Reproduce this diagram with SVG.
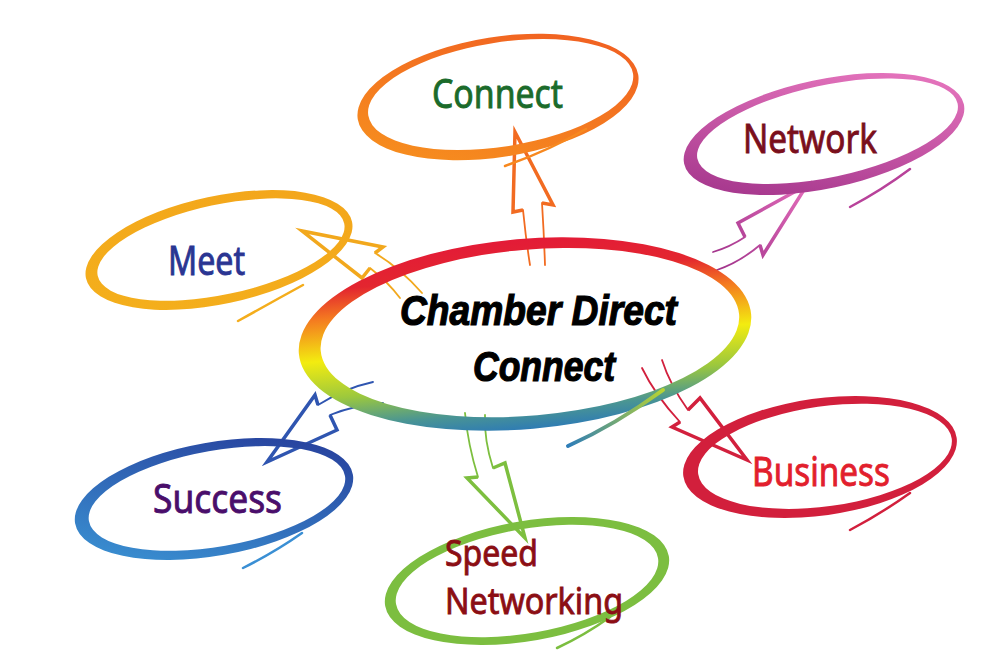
<svg xmlns="http://www.w3.org/2000/svg" width="1000" height="667" viewBox="0 0 1000 667">
<defs>
<style>
.lbl{font-family:"Noto Sans","Open Sans","DejaVu Sans",sans-serif;font-size:40px;stroke-width:0.9px;}
.sm{font-size:36px;}
.ctr{font-family:"Liberation Sans",Arial,sans-serif;font-size:42px;font-weight:bold;font-style:italic;fill:#000;stroke:#000;stroke-width:1.2px;}
.head{fill:none;stroke-width:3.5;stroke-linejoin:miter;stroke-miterlimit:20;}
.shaft{fill:none;stroke-width:1.8;stroke-linecap:round;}
.tail{fill:none;stroke-width:2.5;stroke-linecap:round;}
</style>
<linearGradient id="gCenter" x1="0" y1="0" x2="0" y2="1">
<stop offset="0" stop-color="#e31b37"/>
<stop offset="0.18" stop-color="#e3262f"/>
<stop offset="0.33" stop-color="#f47a20"/>
<stop offset="0.55" stop-color="#f3ec10"/>
<stop offset="0.75" stop-color="#9cc83d"/>
<stop offset="0.9" stop-color="#4a9593"/>
<stop offset="1" stop-color="#2f7cb3"/>
</linearGradient>
<linearGradient id="gCenterTail" gradientUnits="userSpaceOnUse" x1="568" y1="446" x2="663" y2="390">
<stop offset="0" stop-color="#2e7db8"/>
<stop offset="1" stop-color="#b8d432"/>
</linearGradient>
<linearGradient id="gConnect" x1="1" y1="0" x2="0" y2="1">
<stop offset="0" stop-color="#f05a22"/>
<stop offset="1" stop-color="#f7941e"/>
</linearGradient>
<linearGradient id="gMeet" x1="1" y1="0" x2="0" y2="1">
<stop offset="0" stop-color="#f3a51b"/>
<stop offset="1" stop-color="#f4b01c"/>
</linearGradient>
<linearGradient id="gNetwork" x1="1" y1="0" x2="0" y2="1">
<stop offset="0" stop-color="#f07fc5"/>
<stop offset="1" stop-color="#9b2d85"/>
</linearGradient>
<linearGradient id="gSuccess" x1="1" y1="0" x2="0" y2="1">
<stop offset="0" stop-color="#253696"/>
<stop offset="1" stop-color="#3c9ad8"/>
</linearGradient>
<linearGradient id="gNetArrow" gradientUnits="userSpaceOnUse" x1="807" y1="185" x2="713" y2="265">
<stop offset="0" stop-color="#e36cba"/>
<stop offset="1" stop-color="#a0328a"/>
</linearGradient>
</defs>
<rect width="1000" height="667" fill="#ffffff"/>

<g id="connectors">
<g id="arrow-connect" stroke="#f26b21">
<path class="head" d="M 523,210 L 513,212 L 515,132 L 553,205 L 542,203"/>
<path class="shaft" d="M 523,210 Q 526,240 530,265"/>
<path class="shaft" d="M 542,203 Q 544,235 545,265"/>
</g>
<g id="arrow-meet" stroke="#f2a81d">
<path class="head" d="M 375,253 L 383,247 L 302,231 L 362,278 L 370,268"/>
<path class="shaft" d="M 375,253 Q 400,268 422,293"/>
<path class="shaft" d="M 370,268 Q 388,282 400,298"/>
</g>
<g id="arrow-network" stroke="url(#gNetArrow)">
<path class="head" d="M 745,237 L 738,223 L 807,185 L 763,255 L 760,245"/>
<path class="shaft" d="M 745,237 Q 730,247 713,252"/>
<path class="shaft" d="M 760,245 Q 740,262 717,270"/>
</g>
<g id="arrow-success" stroke="#2f55b0">
<path class="head" d="M 318,405 L 315,395 L 267,462 L 337,430 L 330,415"/>
<path class="shaft" d="M 318,405 Q 345,388 373,382"/>
<path class="shaft" d="M 330,415 Q 355,405 383,403"/>
</g>
<g id="arrow-speed" stroke="#7dbf3f">
<path class="head" d="M 478,477 L 467,478 L 525,538 L 505,463 L 493,468"/>
<path class="shaft" d="M 478,477 Q 468,445 465,413"/>
<path class="shaft" d="M 493,468 Q 484,440 485,415"/>
</g>
<g id="arrow-business" stroke="#d2203d">
<path class="head" d="M 688,410 L 700,398 L 747,460 L 672,427 L 680,422"/>
<path class="shaft" d="M 688,410 Q 670,385 662,360"/>
<path class="shaft" d="M 680,422 Q 655,395 642,368"/>
</g>
</g>

<g id="center">
<g transform="translate(525,334) rotate(-5)">
<path fill="url(#gCenter)" fill-rule="evenodd" d="M -227,0 A 227 95 0 1 0 227,0 A 227 95 0 1 0 -227,0 Z M -205,-1 A 210 83 0 1 0 215,-1 A 210 83 0 1 0 -205,-1 Z"/>
</g>
<path d="M 568,446 Q 615,425 663,390" fill="none" stroke="url(#gCenterTail)" stroke-width="4" stroke-linecap="round"/>
<text class="ctr" x="400" y="325" textLength="277" lengthAdjust="spacingAndGlyphs">Chamber Direct</text>
<text class="ctr" x="473" y="381" textLength="142" lengthAdjust="spacingAndGlyphs">Connect</text>
</g>

<g id="node-connect">
<g transform="translate(498,97) rotate(-9)">
<path fill="url(#gConnect)" fill-rule="evenodd" d="M -142,0 A 142 60 0 1 0 142,0 A 142 60 0 1 0 -142,0 Z M -131,-2 A 134 52 0 1 0 137,-2 A 134 52 0 1 0 -131,-2 Z"/>
</g>
<path class="tail" stroke="#f7881f" d="M 505,166 Q 550,150 586,129"/>
<text class="lbl" x="432" y="108" fill="#1b6b2b" stroke="#1b6b2b" textLength="131" lengthAdjust="spacingAndGlyphs">Connect</text>
</g>

<g id="node-meet">
<g transform="translate(219,250) rotate(-12)">
<path fill="url(#gMeet)" fill-rule="evenodd" d="M -136,0 A 136 54 0 1 0 136,0 A 136 54 0 1 0 -136,0 Z M -124,0 A 126 45 0 1 0 128,0 A 126 45 0 1 0 -124,0 Z"/>
</g>
<path class="tail" stroke="#f4ad1c" d="M 238,321 Q 272,302 303,285"/>
<text class="lbl" x="168" y="275" fill="#2a3592" stroke="#2a3592" textLength="77" lengthAdjust="spacingAndGlyphs">Meet</text>
</g>

<g id="node-network">
<g transform="translate(824,134) rotate(-12)">
<path fill="url(#gNetwork)" fill-rule="evenodd" d="M -143,0 A 143 54.5 0 1 0 143,0 A 143 54.5 0 1 0 -143,0 Z M -129,-2 A 133 46 0 1 0 137,-2 A 133 46 0 1 0 -129,-2 Z"/>
</g>
<path class="tail" stroke="#b8429a" d="M 850,207 Q 882,190 910,169"/>
<text class="lbl" x="743" y="153" fill="#7a0f1c" stroke="#7a0f1c" textLength="134" lengthAdjust="spacingAndGlyphs">Network</text>
</g>

<g id="node-success">
<g transform="translate(214,499) rotate(-10)">
<path fill="url(#gSuccess)" fill-rule="evenodd" d="M -141,0 A 141 56.7 0 1 0 141,0 A 141 56.7 0 1 0 -141,0 Z M -127,0 A 130 48 0 1 0 133,0 A 130 48 0 1 0 -127,0 Z"/>
</g>
<path class="tail" stroke="#3a8fd4" d="M 243,568 Q 275,552 302,533"/>
<text class="lbl" x="153" y="513" fill="#4a0e6b" stroke="#4a0e6b" textLength="129" lengthAdjust="spacingAndGlyphs">Success</text>
</g>

<g id="node-speed">
<g transform="translate(527,581) rotate(-10)">
<path fill="#7cbe40" fill-rule="evenodd" d="M -144,0 A 144 59.8 0 1 0 144,0 A 144 59.8 0 1 0 -144,0 Z M -133,0 A 133 52 0 1 0 133,0 A 133 52 0 1 0 -133,0 Z"/>
</g>
<path class="tail" stroke="#7cbe40" d="M 557,648 Q 585,635 610,617"/>
<text class="lbl sm" x="445" y="566" fill="#8b0e14" stroke="#8b0e14" textLength="93" lengthAdjust="spacingAndGlyphs">Speed</text>
<text class="lbl sm" x="445" y="614" fill="#8b0e14" stroke="#8b0e14" textLength="178" lengthAdjust="spacingAndGlyphs">Networking</text>
</g>

<g id="node-business">
<g transform="translate(820,457) rotate(-8)">
<path fill="#d21f3c" fill-rule="evenodd" d="M -138,0 A 138 58.5 0 1 0 138,0 A 138 58.5 0 1 0 -138,0 Z M -123,0 A 128 50 0 1 0 133,0 A 128 50 0 1 0 -123,0 Z"/>
</g>
<path class="tail" stroke="#d21f3c" d="M 850,530 Q 882,513 910,493"/>
<text class="lbl" x="752" y="486" fill="#e21f2d" stroke="#e21f2d" textLength="138" lengthAdjust="spacingAndGlyphs">Business</text>
</g>
</svg>
